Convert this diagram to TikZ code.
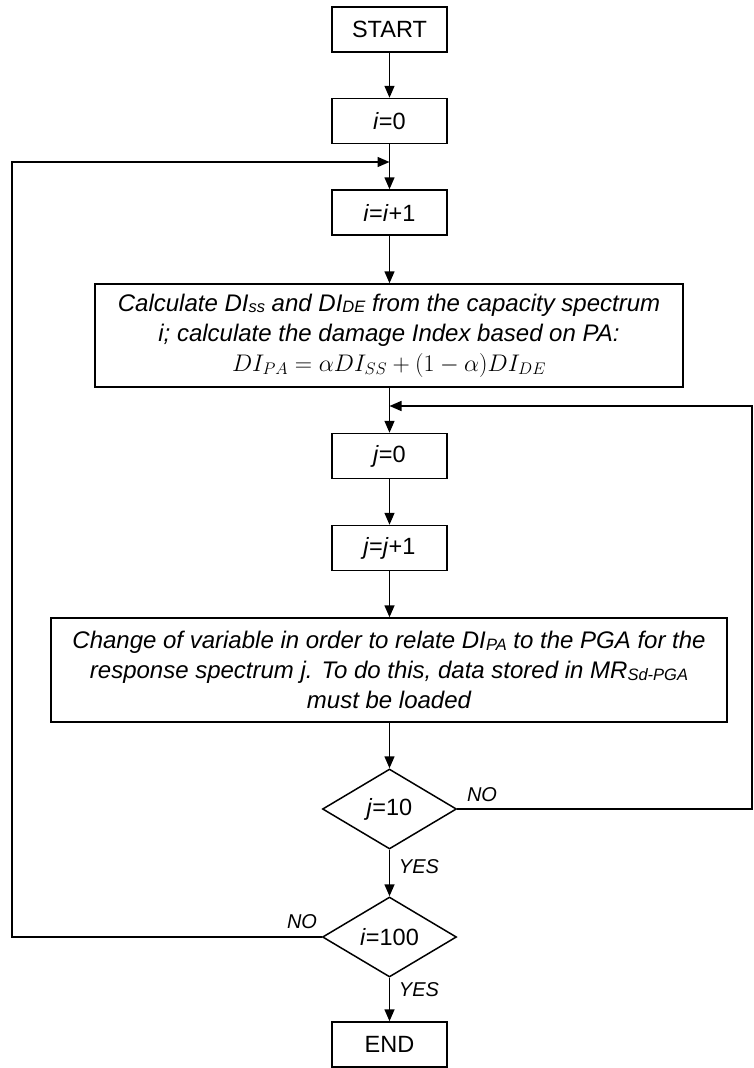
\RequirePackage{fix-cm}
\documentclass[tikz,border=0pt]{standalone}
\usepackage{fontspec}
\setmainfont{Liberation Sans}
\usetikzlibrary{arrows.meta,shapes.geometric}
\newcommand{\smsub}[1]{\raisebox{-1.5pt}{\fontsize{16.5}{16.5}\selectfont #1}}
\begin{document}
\begin{tikzpicture}[x=1pt,y=-1pt,
  box/.style={draw,line width=1.5pt,minimum width=115pt,minimum height=45pt,inner sep=0pt,font=\fontsize{23.5}{28}\selectfont},
  bigbox/.style={draw,line width=1.5pt,inner sep=0pt,align=center,font=\fontsize{24}{30}\selectfont\itshape},
  dec/.style={draw,diamond,line width=1.5pt,minimum width=134pt,minimum height=80pt,inner sep=0pt,font=\fontsize{23.5}{28}\selectfont},
  lbl/.style={font=\fontsize{20}{20}\selectfont\itshape,inner sep=0pt},
  arr/.style={line width=1.5pt,-{Triangle[width=10pt,length=12pt]}}]
\useasboundingbox (0,0) rectangle (754,1068);
\node[box] (start) at (389.5,29.5) {START};
\node[box] (i0) at (389.5,121) {\textit{i}=0};
\node[box] (ii) at (389.5,212.5) {\textit{i}=\textit{i}+1};
\node[bigbox,minimum width=588pt,minimum height=103pt] (b1) at (389,335.5)
  {\rule{0pt}{8pt}Calculate DI\smsub{ss} and DI\smsub{DE} from the capacity spectrum\\
   i; calculate the damage Index based on PA:\\
   $DI_{PA}=\alpha DI_{SS}+(1-\alpha)DI_{DE}$};
\node[box] (j0) at (389.5,456) {\textit{j}=0};
\node[box] (jj) at (389.5,548) {\textit{j}=\textit{j}+1};
\node[bigbox,minimum width=676pt,minimum height=104pt] (b2) at (389,670)
  {Change of variable in order to relate DI\smsub{PA} to the PGA for the\\
   response spectrum j. To do this, data stored in MR\smsub{Sd-PGA}\\
   must be loaded};
\node[dec] (d1) at (389.5,809) {\textit{j}=10};
\node[dec] (d2) at (389.5,937) {\textit{i}=100};
\node[box] (end) at (389.5,1044.5) {END};
\node[lbl] (no1) at (482,795) {NO};
\node[lbl] (yes1) at (419,867) {YES};
\node[lbl] (no2) at (302,922) {NO};
\node[lbl] (yes2) at (419,990) {YES};
\coordinate (m1) at (389.5,162);
\coordinate (m2) at (389.5,406);
\coordinate (lx) at (12,0);
\coordinate (rx) at (752,0);
\draw[arr] (start) -- (i0);
\draw[arr] (i0) -- (ii);
\draw[arr] (ii) -- (b1.north -| ii);
\draw[arr] (b1.south -| j0) -- (j0);
\draw[arr] (j0) -- (jj);
\draw[arr] (jj) -- (b2.north -| jj);
\draw[arr] (b2.south -| d1) -- (d1);
\draw[arr] (d1) -- (d2);
\draw[arr] (d2) -- (end);
\draw[arr] (d1.east) -- (d1.east -| rx) |- (m2);
\draw[arr] (d2.west) -- (d2.west -| lx) |- (m1);
\end{tikzpicture}
\end{document}
